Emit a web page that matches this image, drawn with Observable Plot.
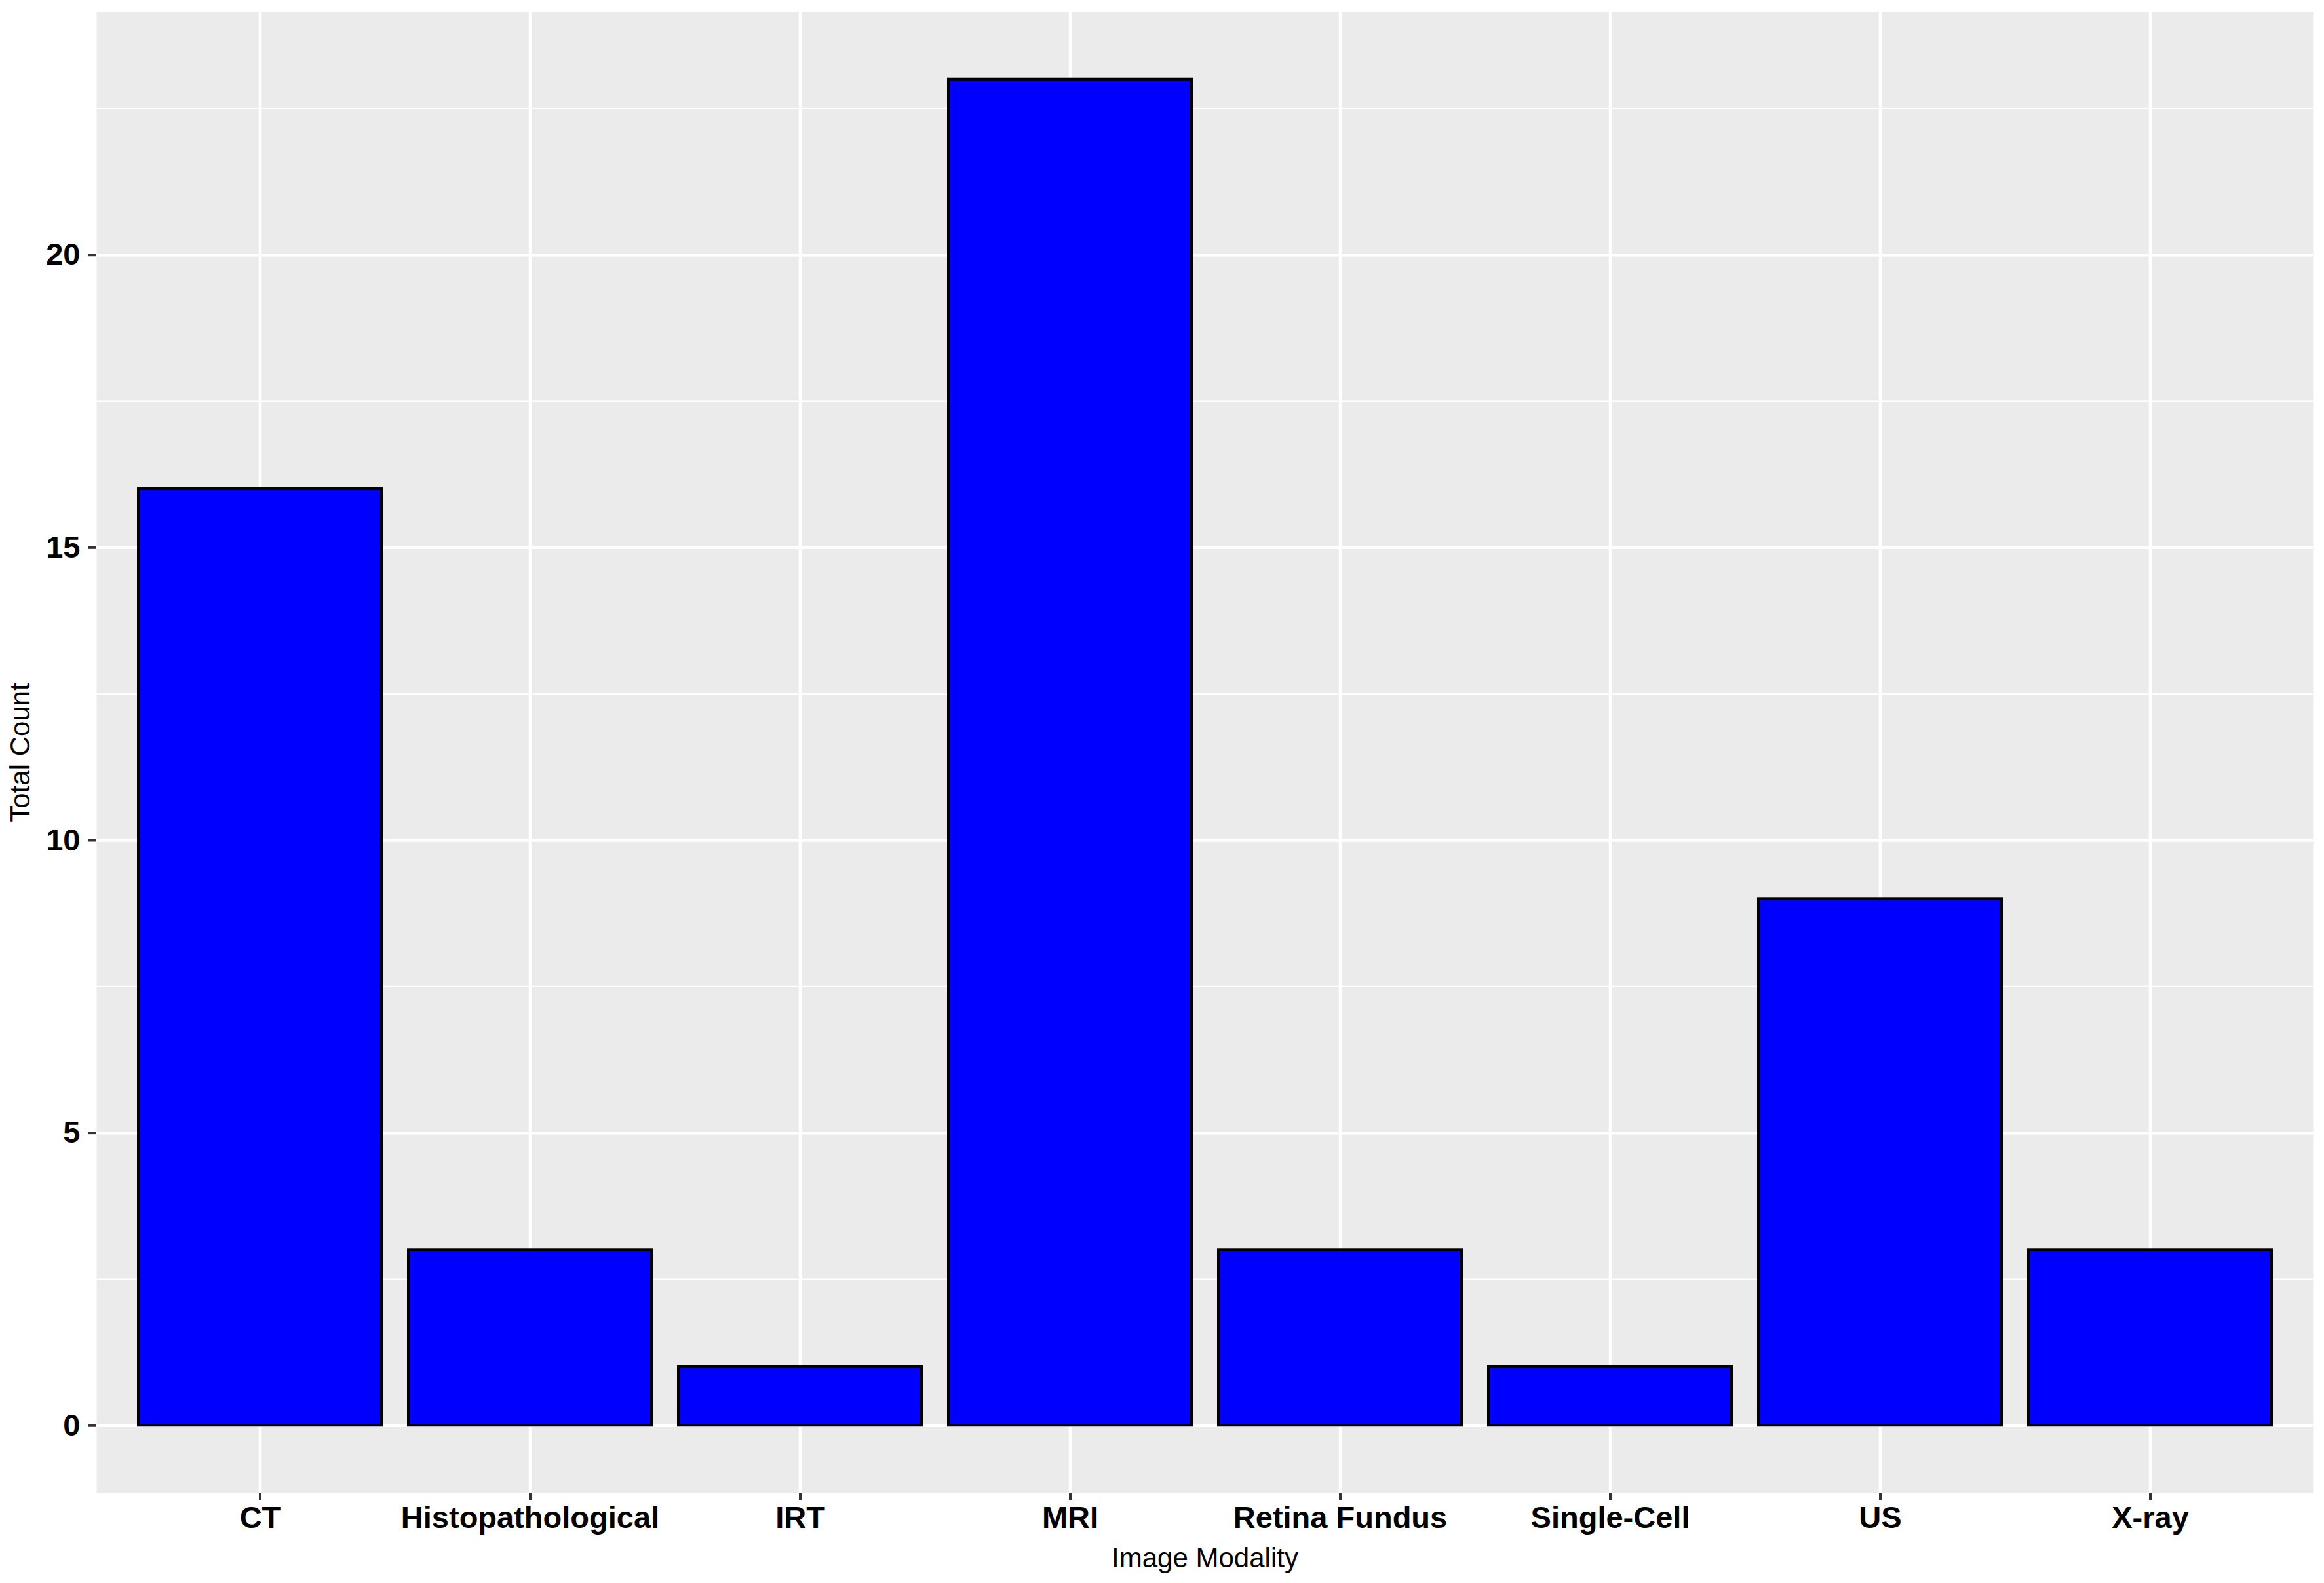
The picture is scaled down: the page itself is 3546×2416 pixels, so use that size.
<!DOCTYPE html>
<html>
<head>
<meta charset="utf-8">
<script src="https://cdn.jsdelivr.net/npm/d3@7"></script>
<script src="https://cdn.jsdelivr.net/npm/@observablehq/plot@0.6"></script>
<style>
  html, body { margin: 0; padding: 0; background: #ffffff; }
  #chart svg { display: block; }
</style>
</head>
<body>
<div id="chart"></div>
<script>
const categories = ["CT", "Histopathological", "IRT", "MRI", "Retina Fundus", "Single-Cell", "US", "X-ray"];
const counts = [16, 3, 1, 23, 3, 1, 9, 3];
const yMajorTicks = [0, 5, 10, 15, 20];
const yMinorTicks = [2.5, 7.5, 12.5, 17.5, 22.5];
const xTitle = "Image Modality";
const yTitle = "Total Count";

const data = categories.map((c, i) => ({modality: c, count: counts[i]}));

const chart = Plot.plot({
  width: 3546,
  height: 2416,
  marginTop: 18,
  marginBottom: 138,
  marginLeft: 147,
  marginRight: 17,
  style: {fontFamily: "'Liberation Sans', Arial, Helvetica, sans-serif", background: "#ffffff", color: "#000000"},
  x: {domain: categories, paddingInner: 0.1, paddingOuter: 0.15, align: 0.5},
  y: {domain: [-1.15, 24.15]},
  marks: [
    Plot.frame({fill: "#EBEBEB", stroke: null}),
    Plot.gridY(yMinorTicks, {stroke: "#ffffff", strokeOpacity: 1, strokeWidth: 2}),
    Plot.gridY(yMajorTicks, {stroke: "#ffffff", strokeOpacity: 1, strokeWidth: 4.5}),
    Plot.gridX(categories, {stroke: "#ffffff", strokeOpacity: 1, strokeWidth: 4.5}),
    Plot.barY(data, {x: "modality", y: "count", fill: "#0000FF", stroke: "#000000", strokeWidth: 4}),
    Plot.axisY(yMajorTicks, {
      anchor: "left", tickSize: 12, tickPadding: 13, stroke: "#333333", strokeWidth: 4,
      fontSize: 47, fontWeight: "bold", fill: "#000000", tickFormat: d3.format("d"),
      label: yTitle, labelAnchor: "center", labelArrow: "none", labelOffset: 132
    }),
    Plot.axisX({
      anchor: "bottom", tickSize: 12, tickPadding: 8, stroke: "#333333", strokeWidth: 4,
      fontSize: 47, fontWeight: "bold", fill: "#000000",
      label: xTitle, labelAnchor: "center", labelArrow: "none", labelOffset: 113
    })
  ]
});

chart.querySelectorAll("[aria-label='y-axis label'] text, [aria-label='x-axis label'] text").forEach(t => {
  t.setAttribute("font-weight", "normal");
  t.setAttribute("font-size", "42");
});
document.getElementById("chart").appendChild(chart);
</script>
</body>
</html>
